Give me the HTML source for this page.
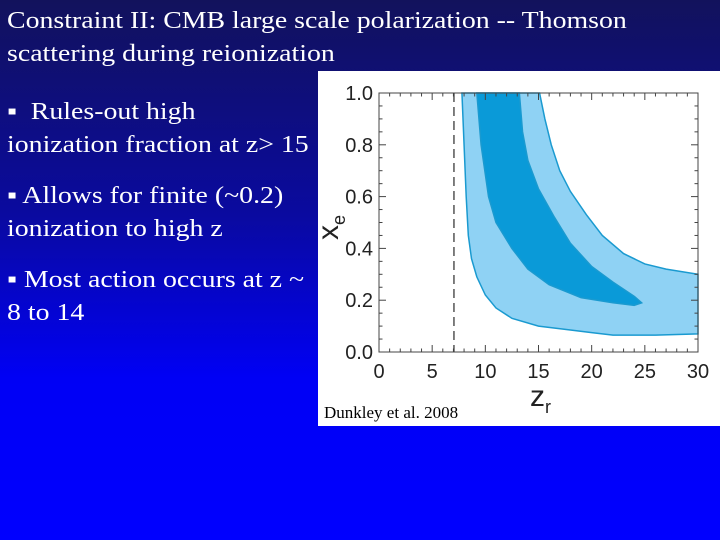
<!DOCTYPE html>
<html><head><meta charset="utf-8"><style>
body{margin:0;width:720px;height:540px;overflow:hidden;background:linear-gradient(180deg,#12125c 0%,#0a0aa0 40%,#0000f5 70%,#0000ff 100%);font-family:"Liberation Serif",serif;color:#fff;position:relative}
.t{position:absolute;left:7px;font-size:24px;line-height:33px;white-space:nowrap;transform:scaleX(1.16);transform-origin:0 0}
</style></head><body>
<div class="t" style="top:5px">Constraint II: CMB large scale polarization -- Thomson<br>scattering during reionization</div>
<div class="t" style="top:96px">▪ &nbsp;Rules-out high<br>ionization fraction at z&gt; 15</div>
<div class="t" style="top:180px">▪ Allows for finite (~0.2)<br>ionization to high z</div>
<div class="t" style="top:264px">▪ Most action occurs at z ~<br>8 to 14</div>
<svg id="c" style="position:absolute;left:0;top:0" width="720" height="540"></svg>
<script>
const xTicks=[0,5,10,15,20,25,30];
const yTicks=[0.0,0.2,0.4,0.6,0.8,1.0];
const outerZ=[7.8,8.0,8.2,8.4,8.7,9.2,10,11,12.5,15,18,20,22,26,30,30,27,25,23,21,19.5,18,17,16.2,15.6,15.1];
const outerX=[1.0,0.8,0.6,0.45,0.36,0.29,0.22,0.17,0.13,0.1,0.085,0.075,0.065,0.065,0.07,0.3,0.32,0.34,0.38,0.45,0.53,0.62,0.7,0.8,0.9,1.0];
const innerZ=[9.2,9.6,10.3,11,12.5,14,16,19,22,24,24.7,24,22,20,18,16.5,15,14,13.5,13.2];
const innerX=[1.0,0.8,0.6,0.5,0.4,0.32,0.26,0.21,0.19,0.18,0.19,0.215,0.27,0.33,0.42,0.52,0.63,0.74,0.85,1.0];
const dashZ=7.05;
const L=379,R=698,T=93,B=352;
const sx=z=>L+(z-0)/30*(R-L), sy=v=>B-v*(B-T);
const svg=document.getElementById('c');const NS='http://www.w3.org/2000/svg';
function mk(t,a,p){const e=document.createElementNS(NS,t);for(const k in a)e.setAttribute(k,a[k]);(p||svg).appendChild(e);return e;}
const bg=mk('rect',{x:318,y:71,width:402,height:355,fill:'#fff'});


function poly(zs,xs,fill,name){const pts=zs.map((z,i)=>sx(z)+','+sy(xs[i])).join(' ');const p=mk('polygon',{points:pts,fill:fill,stroke:'#1a9ad0','stroke-width':1.5});

}
poly(outerZ,outerX,'#8fd2f4','contour-95');
poly(innerZ,innerX,'#0a9ad8','contour-68');
const dl=mk('line',{x1:sx(dashZ),x2:sx(dashZ),y1:T,y2:B,stroke:'#000','stroke-width':1,'stroke-dasharray':'9,5'});


const fr=mk('rect',{x:L,y:T,width:R-L,height:B-T,fill:'none',stroke:'#444','stroke-width':1});


for(let z=0;z<=30;z+=1){const len=z%5===0?7:3.5;mk('line',{x1:sx(z),x2:sx(z),y1:B,y2:B-len,stroke:'#444'});mk('line',{x1:sx(z),x2:sx(z),y1:T,y2:T+len,stroke:'#444'});}
for(let i=0;i<=20;i++){const v=i*0.05,len=i%4===0?7:3.5;mk('line',{x1:L,x2:L+len,y1:sy(v),y2:sy(v),stroke:'#444'});mk('line',{x1:R,x2:R-len,y1:sy(v),y2:sy(v),stroke:'#444'});}
xTicks.forEach(z=>{const t=mk('text',{x:sx(z),y:B+26,'text-anchor':'middle','font-family':'Liberation Sans,sans-serif','font-size':20,fill:'#222'});t.textContent=z;

});
yTicks.forEach(v=>{const t=mk('text',{x:L-6,y:sy(v)+7,'text-anchor':'end','font-family':'Liberation Sans,sans-serif','font-size':20,fill:'#222'});t.textContent=v.toFixed(1);

});
const xt=mk('text',{x:530,y:406,'font-family':'Liberation Sans,sans-serif','font-size':30,fill:'#222'});xt.innerHTML='z<tspan font-size="18" dy="7">r</tspan>';


const yt=mk('text',{x:0,y:0,transform:'translate(338,240) rotate(-90)','font-family':'Liberation Sans,sans-serif','font-size':30,fill:'#222'});yt.innerHTML='x<tspan font-size="18" dy="7">e</tspan>';


const cr=mk('text',{x:324,y:418,'font-family':'Liberation Serif,serif','font-size':17,fill:'#000'});cr.textContent='Dunkley et al. 2008';


</script>
</body></html>
